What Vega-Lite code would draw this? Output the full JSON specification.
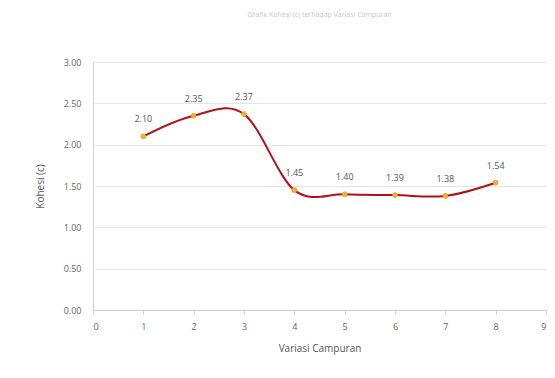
{
  "$schema": "https://vega.github.io/schema/vega-lite/v6.json",
  "autosize": "none",
  "width": 453,
  "height": 248,
  "padding": {"left": 93, "top": 62, "right": 9, "bottom": 68},
  "background": "white",
  "title": {"text": "Grafik Kohesi (c) terhadap Variasi Campuran", "fontSize": 7, "color": "#c8c8c8", "font": "Open Sans", "fontWeight": "normal", "anchor": "middle", "offset": 40},
  "config": {"view": {"stroke": null}, "font": "Open Sans"},
  "data": {"values": [
    {"x": 1, "c": 2.10},
    {"x": 2, "c": 2.35},
    {"x": 3, "c": 2.37},
    {"x": 4, "c": 1.45},
    {"x": 5, "c": 1.40},
    {"x": 6, "c": 1.39},
    {"x": 7, "c": 1.38},
    {"x": 8, "c": 1.54}
  ]},
  "encoding": {
    "x": {"field": "x", "type": "quantitative", "scale": {"domain": [0, 9], "nice": false},
      "axis": {"title": "Variasi Campuran", "values": [0,1,2,3,4,5,6,7,8,9], "format": "d", "grid": false, "domainColor": "#d0d0d0", "tickColor": "#d0d0d0", "tickSize": 4, "labelColor": "#666666", "labelFontSize": 9, "labelPadding": 8, "titleColor": "#555555", "titleFontSize": 10, "titleFontWeight": "normal", "titlePadding": 12}},
    "y": {"field": "c", "type": "quantitative", "scale": {"domain": [0, 3], "nice": false},
      "axis": {"title": "Kohesi (c)", "values": [0,0.5,1,1.5,2,2.5,3], "format": ".2f", "gridColor": "#e6e6e6", "domainColor": "#d0d0d0", "ticks": false, "labelColor": "#666666", "labelFontSize": 9, "labelPadding": 12, "titleColor": "#555555", "titleFontSize": 10, "titleFontWeight": "normal", "titlePadding": 18}}
  },
  "layer": [
    {"mark": {"type": "line", "interpolate": "cardinal", "color": "#b0101a", "strokeWidth": 2}},
    {"mark": {"type": "point", "filled": true, "size": 22, "color": "#f2b134", "stroke": "#e8a020", "strokeWidth": 1, "opacity": 1}},
    {"mark": {"type": "text", "dy": -17, "fontSize": 9, "color": "#555555"}, "encoding": {"text": {"field": "c", "type": "quantitative", "format": ".2f"}}}
  ]
}
